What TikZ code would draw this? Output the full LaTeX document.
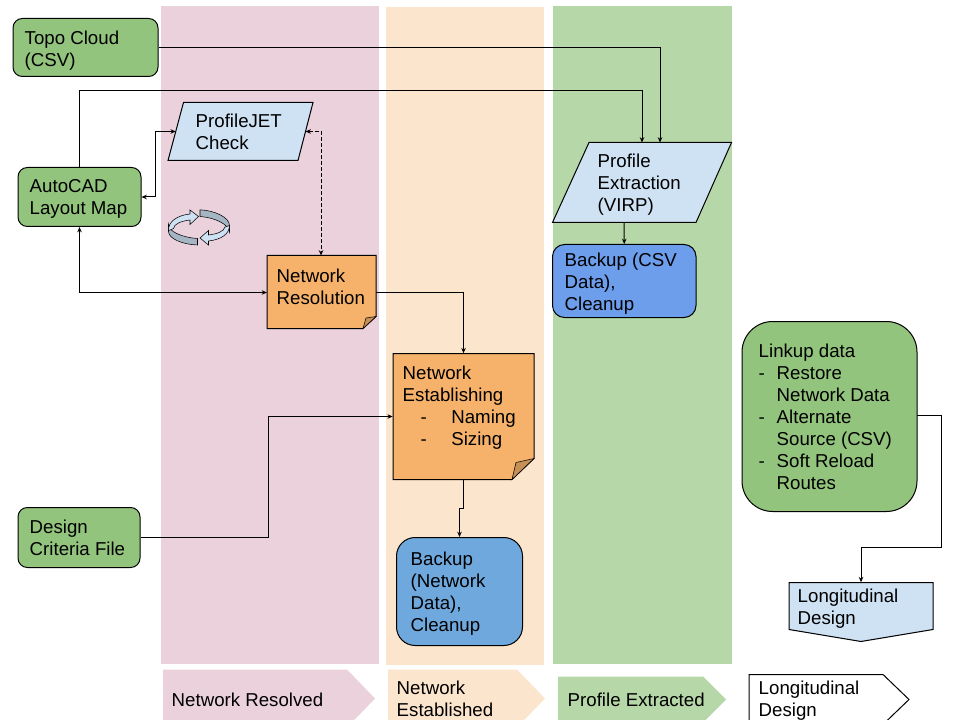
\documentclass[tikz,border=0pt]{standalone}
\usepackage{fontspec}
\setmainfont{Liberation Sans}
\usetikzlibrary{fit,arrows.meta}
\definecolor{bpink}{HTML}{EAD1DC}
\definecolor{bpeach}{HTML}{FCE5CD}
\definecolor{bgreen}{HTML}{B6D7A8}
\definecolor{sgreen}{HTML}{93C47D}
\definecolor{slight}{HTML}{CFE2F3}
\definecolor{sorange}{HTML}{F6B26B}
\definecolor{sfold}{HTML}{C58F56}
\definecolor{sblueA}{HTML}{6FA8DC}
\definecolor{sblueB}{HTML}{6D9EEB}
\definecolor{sdark}{HTML}{A6B5C4}
\newcommand{\firstline}{\rule{0pt}{10.875pt}}
\newcommand{\dashitem}[1]{\makebox[#1][l]{-}}
\tikzset{
  x=0.75pt,y=-0.75pt,
  band/.style={fill=#1,draw=none},
  solidbox/.style={inner sep=0pt,draw=black,line width=0.75pt,fill=#1},
  outline/.style={draw=black,line width=0.75pt,fill=#1},
  txt/.style={anchor=north west,inner sep=0pt,xshift=-0.4pt,align=left,font=\fontsize{14pt}{16.5pt}\selectfont,execute at begin node=\firstline},
  conn/.style={draw=black,line width=0.75pt,{-{Stealth[length=4pt,width=3.4pt]}}},
  conntwo/.style={draw=black,line width=0.75pt,{{Stealth[length=4pt,width=3.4pt]}-{Stealth[length=4pt,width=3.4pt]}}},
}
\begin{document}
\begin{tikzpicture}
\useasboundingbox (0,0) rectangle (960,720);
\clip (0,0) rectangle (960,720);
\begin{scope}[shift={(0,0.5)}]
% bands
\fill[bpink] (161,5.5) rectangle (379,663);
\fill[bpeach] (386,6.5) rectangle (544,664);
\fill[bgreen] (553,5.5) rectangle (732,663);
% chevrons
\fill[bpink] (163,669) -- (347,669) -- (375,698) -- (347,727) -- (163,727) -- cycle;
\fill[bpeach] (388,669) -- (517,669) -- (545,698) -- (517,727) -- (388,727) -- cycle;
\fill[bgreen] (558,676) -- (703,676) -- (726,699) -- (703,722) -- (558,722) -- cycle;
\draw[outline=white] (749,674) -- (883,674) -- (909,699) -- (883,724) -- (749,724) -- cycle;
\node[txt] (lblA) at (172,691) {Network Resolved};
\node[txt] (lblB) at (397,680) {Network\\Established};
\node[txt] (lblC) at (568,691) {Profile Extracted};
\node[txt] (lblD) at (759,680) {Longitudinal\\Design};
% rounded boxes
\node[solidbox=sgreen,rounded corners=7pt,fit={(13,18)(158,76)}] (topo) {};
\node[solidbox=sgreen,rounded corners=7pt,fit={(18,167)(141,226)}] (auto) {};
\node[solidbox=sgreen,rounded corners=7pt,fit={(18,507)(140,567)}] (crit) {};
\node[solidbox=sgreen,rounded corners=23pt,fit={(742,321)(917,511)}] (link) {};
\node[solidbox=sblueA,rounded corners=14pt,fit={(396.5,537)(522.5,645)}] (bknet) {};
\node[solidbox=sblueB,rounded corners=9pt,fit={(552.5,244)(696,317)}] (bkcsv) {};
% parallelograms
\draw[outline=slight] (183.5,102) -- (313,102) -- (298,160) -- (168,160) -- cycle;
\node[inner sep=0pt,fit={(175.75,102)(305.5,160)}] (pjet) {};
\draw[outline=slight] (589,142) -- (731.5,142) -- (696,222) -- (552.5,222) -- cycle;
\node[inner sep=0pt,fit={(571,142)(714,222)}] (prof) {};
% notes
\draw[outline=sorange] (267,255) -- (376,255) -- (376,316) -- (363,328) -- (267,328) -- cycle;
\fill[sfold,draw=black,line width=0.4pt] (376,316) -- (366,317.5) -- (363,328) -- cycle;
\node[inner sep=0pt,fit={(267,255)(376,328)}] (nres) {};
\draw[outline=sorange] (393,353) -- (534,353) -- (534,458) -- (512,479) -- (393,479) -- cycle;
\fill[sfold,draw=black,line width=0.4pt] (534,458) -- (516,462) -- (512,479) -- cycle;
\node[inner sep=0pt,fit={(393,353)(534,479)}] (nest) {};
% off-page
\draw[outline=slight] (789,582) -- (933,582) -- (933,629) -- (861,641) -- (789,629) -- cycle;
\node[inner sep=0pt,fit={(789,582)(933,641)}] (longd) {};
% cycle icon
\draw[fill=sdark,draw=black,line width=0.4pt] (200,209.3) .. controls (215,210) and (229.5,217) .. (229.5,225) -- (229.5,231.5) .. controls (229,224) and (215,217) .. (200,216) -- cycle;
\draw[fill=sdark,draw=black,line width=0.4pt] (197.5,238) .. controls (182,237) and (168.5,231) .. (168.5,224) -- (168.5,231) .. controls (168.5,238) and (182,244) .. (197.5,244.5) -- cycle;
\draw[fill=slight,draw=black,line width=0.4pt] (168.5,230) .. controls (168,222) and (176,215) .. (190,213.5) -- (190,209.5) -- (198.5,216) -- (190,224) -- (190,219.5) .. controls (182,220.5) and (174,223) .. (173.5,228) .. controls (172,229) and (170,229.5) .. (168.5,230) -- cycle;
\draw[fill=slight,draw=black,line width=0.4pt] (229.5,225) .. controls (229.5,233) and (222,239) .. (208.5,240.5) -- (208.5,244.5) -- (200,237.5) -- (208.5,230) -- (208.5,234.5) .. controls (217,233.5) and (224,231) .. (225,226.5) .. controls (227,226.5) and (228,226) .. (229.5,225) -- cycle;
% texts
\node[txt] (tTopo) at (25,30) {Topo Cloud\\(CSV)};
\node[txt] (tAuto) at (30,179) {AutoCAD\\Layout Map};
\node[txt] (tCrit) at (30,519) {Design\\Criteria File};
\node[txt] (tPjet) at (196,113) {ProfileJET\\Check};
\node[txt] (tNres) at (277,268) {Network\\Resolution};
\node[txt] (tNest) at (403,365) {Network\\Establishing\\\hspace*{13.5pt}\dashitem{23pt}Naming\\\hspace*{13.5pt}\dashitem{23pt}Sizing};
\node[txt] (tBknet) at (411,551) {Backup\\(Network\\Data),\\Cleanup};
\node[txt] (tProf) at (598,153) {Profile\\Extraction\\(VIRP)};
\node[txt] (tBkcsv) at (565,252) {Backup (CSV\\Data),\\Cleanup};
\node[txt] (tLink) at (759,343) {Linkup data\\\dashitem{13.5pt}Restore\\\hspace*{13.5pt}Network Data\\\dashitem{13.5pt}Alternate\\\hspace*{13.5pt}Source (CSV)\\\dashitem{13.5pt}Soft Reload\\\hspace*{13.5pt}Routes};
\node[txt] (tLong) at (798,588) {Longitudinal\\Design};
% connectors
\coordinate (pjw) at (175.75,131);
\coordinate (pje) at (305.5,131);
\coordinate (ptop1) at (642,142);
\coordinate (ptop2) at (660,142);
\draw[conn] (topo.east) -- (660,47) -- (ptop2);
\draw[conn] (auto.north) -- (79.5,90) -- (642,90) -- (ptop1);
\draw[conntwo] (auto.east) -- (155.5,196.5) -- (155.5,131) -- (pjw);
\draw[conntwo,dash pattern=on 3pt off 1.5pt] (pje) -- (321,131) -- (321,255);
\draw[conntwo] (auto.south) -- (79.5,292) -- (267,292);
\draw[conn] (376,292) -- (463.5,292) -- (nest.north);
\draw[conn] (crit.east) -- (268,537) -- (268,416) -- (nest.west);
\draw[conn] (nest.south) -- (463.5,508) -- (459.5,508) -- (bknet.north);
\draw[conn] (624,222) -- (bkcsv.north);
\draw[conn] (917,415) -- (941,415) -- (941,547) -- (861,547) -- (longd.north);
\end{scope}
\end{tikzpicture}
\end{document}
